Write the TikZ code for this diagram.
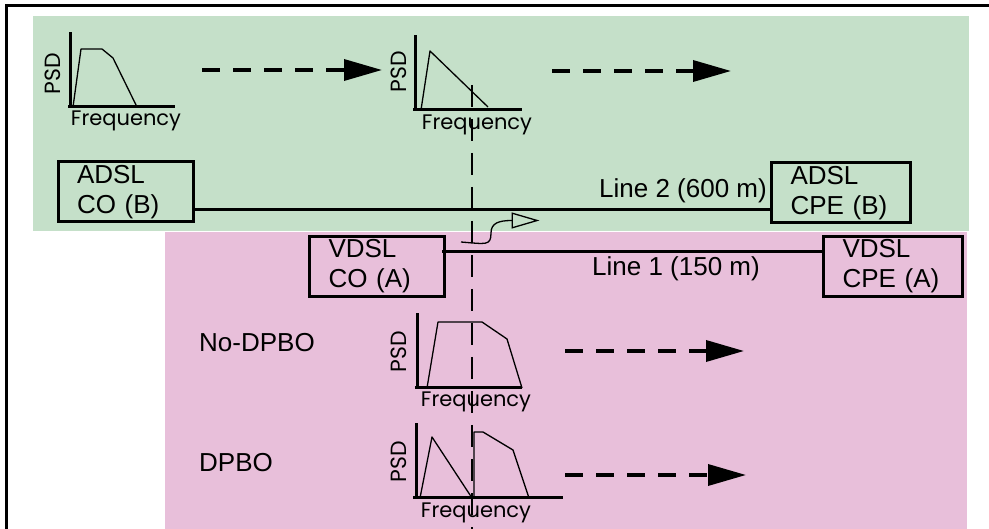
\documentclass[tikz,border=0pt]{standalone}
\usepackage{fontspec}
\setmainfont{Liberation Sans}
\newfontfamily\axisfont{Poppins}
\usetikzlibrary{arrows.meta}
\definecolor{adslgreen}{RGB}{197,224,201}
\definecolor{vdslpink}{RGB}{232,191,218}
\tikzset{
  axisline/.style={line width=3pt},
  psdcurve/.style={line width=1.3pt,line join=round},
  psdlbl/.style={rotate=90,inner sep=0pt,font=\axisfont\fontsize{22}{22}\selectfont},
  freqlbl/.style={inner sep=0pt,font=\axisfont\fontsize{21}{21}\selectfont},
  flow/.style={line width=3.5pt,dash pattern=on 18pt off 13pt,-{Triangle[length=38pt,width=21pt]}},
}
\begin{document}
\begin{tikzpicture}[x=1pt,y=-1pt,font=\fontsize{26}{30}\selectfont]
\useasboundingbox (0,0) rectangle (989,529);
\fill[adslgreen] (33,16) rectangle (969,231);
\fill[vdslpink] (165,232) rectangle (967,529);
\draw[line width=3pt] (6,529) -- (6,6) -- (989,6);

\begin{scope}[shift={(70,107)}]
    \draw[axisline] (-2,0) -- (105,0);
    \draw[axisline] (0,0) -- (0,-75);
    \draw[psdcurve] (3,0) -- (11,-58) -- (32,-58) -- (43,-49) -- (67,0);
    \node[psdlbl] (psd1) at (-17,-33) {PSD};
    \node[freqlbl] (freq1) at (56,14) {Frequency};
\end{scope}
\begin{scope}[shift={(415,110)}]
    \draw[axisline] (-2,0) -- (107,0);
    \draw[axisline] (0,0) -- (0,-75);
    \draw[psdcurve] (6,0) -- (15,-59) -- (73,-3);
    \node[psdlbl] (psd2) at (-16,-38) {PSD};
    \node[freqlbl] (freq2) at (62,15) {Frequency};
\end{scope}
\begin{scope}[shift={(417,388)}]
    \draw[axisline] (-2,0) -- (105,0);
    \draw[axisline] (0,0) -- (0,-75);
    \draw[psdcurve] (10,0) -- (21,-66) -- (65,-66) -- (90,-49) -- (105,0);
    \node[psdlbl] (psd3) at (-18,-36) {PSD};
    \node[freqlbl] (freq3) at (59,14) {Frequency};
\end{scope}
\begin{scope}[shift={(416,498)}]
    \draw[axisline] (-3,0) -- (147,0);
    \draw[axisline] (0,0) -- (0,-75);
    \draw[psdcurve] (4,0) -- (16,-61) -- (56,0);
    \draw[psdcurve] (58,0) -- (58,-66) -- (67,-66) -- (97,-48) -- (113,0);
    \node[psdlbl] (psd4) at (-17,-36) {PSD};
    \node[freqlbl] (freq4) at (60,15) {Frequency};
\end{scope}

\begin{scope}[every node/.style={draw,line width=3pt,inner xsep=19pt,inner ysep=0pt,
              minimum height=60pt,align=left}]
    \node[text width=97pt] (adslco) at (125.5,192) {ADSL\\CO (B)};
    \node[text width=101pt] (adslcpe) at (841,193) {ADSL\\CPE (B)};
    \node[text width=97pt] (vdslco) at (377,266.5) {VDSL\\CO (A)};
    \node[text width=101pt] (vdslcpe) at (893,266.5) {VDSL\\CPE (A)};
\end{scope}
\node[anchor=base east,inner sep=0pt] (line2lbl) at (767,198) {Line 2 (600 m)};
\node[anchor=base east,inner sep=0pt] (line1lbl) at (760,276) {Line 1 (150 m)};
\node[anchor=west,inner sep=0pt] (nodpbo) at (199,343) {No-DPBO};
\node[anchor=west,inner sep=0pt] (dpbo) at (199,463) {DPBO};

\coordinate (adslflowA) at (202,70);
\coordinate (adslflowB) at (382,70);
\coordinate (adslflowC) at (552,71);
\coordinate (adslflowD) at (731,71);
\coordinate (nodpboS) at (565,351);
\coordinate (nodpboE) at (744,351);
\coordinate (dpboS) at (565,475);
\coordinate (dpboE) at (746,475);
\coordinate (cutTop) at (472,85);
\coordinate (cutBot) at (472,529);
\coordinate (xtalkS) at (461,242);
\coordinate (xtalkE) at (539.5,220.5);

\begin{scope}[line width=3pt]
    \path (adslco.east) ++(0,-18pt) coordinate (l2a);
    \path (adslcpe.west) ++(0,-17pt) coordinate (l2b);
    \draw (l2a) -- (l2a -| l2b);
    \path (vdslco.east) ++(-4pt,14.5pt) coordinate (l1a);
    \draw (l1a) -- (l1a -| vdslcpe.west);
\end{scope}
\begin{scope}[every path/.style={flow}]
    \draw (adslflowA) -- (adslflowB);
    \draw (adslflowC) -- (adslflowD);
    \draw (nodpboS) -- (nodpboE);
    \draw (dpboS) -- (dpboE);
\end{scope}
\draw[line width=2.2pt,dash pattern=on 22pt off 12pt] (cutTop) -- (cutBot);
\draw[line width=1.3pt,-{Triangle[open,length=28pt,width=16pt]}] (xtalkS)
    .. controls (486,244) and (491,246) .. (491,233)
    .. controls (491,223) and (499,220.5) .. (xtalkE);
\end{tikzpicture}
\end{document}
